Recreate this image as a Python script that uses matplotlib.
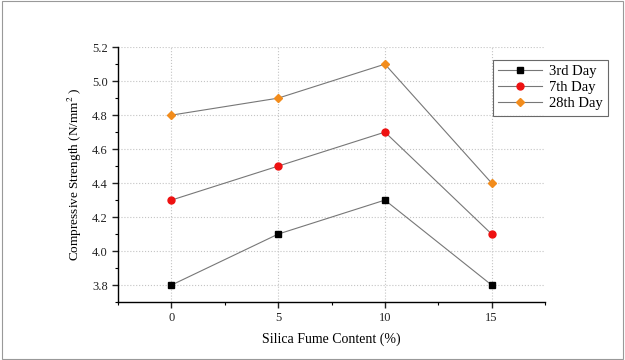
import matplotlib
matplotlib.use("Agg")
import matplotlib.pyplot as plt
from matplotlib.patches import Rectangle
from matplotlib.ticker import MultipleLocator, FormatStrFormatter

plt.rcParams['font.family'] = ['Liberation Serif', 'DejaVu Serif']
plt.rcParams['mathtext.fontset'] = 'stix'

# data
silica = [0, 5, 10, 15]
day3 = [3.8, 4.1, 4.3, 3.8]
day7 = [4.3, 4.5, 4.7, 4.1]
day28 = [4.8, 4.9, 5.1, 4.4]

fig = plt.figure(figsize=(6.25, 3.6), dpi=100)
ax = fig.add_axes([0.189, 0.161, 0.683, 0.708])

# thin frame round the whole picture
fig.patches.append(Rectangle((0.003, 0.003), 0.994, 0.994, transform=fig.transFigure,
                             fill=False, edgecolor='#999999', linewidth=0.8))

line_kw = dict(color='#777777', linewidth=0.8)
ax.plot(silica, day3, marker='s', markersize=5, markerfacecolor='black',
        markeredgecolor='black', label='3rd Day', **line_kw)
ax.plot(silica, day7, marker='o', markersize=5, markerfacecolor='#ee1111',
        markeredgecolor='#ee1111', label='7th Day', **line_kw)
ax.plot(silica, day28, marker='D', markersize=4.5, markerfacecolor='#f28c1c',
        markeredgecolor='#f28c1c', label='28th Day', **line_kw)

ax.set_xlim(-2.5, 17.5)
ax.set_ylim(3.7, 5.2)
ax.xaxis.set_major_locator(MultipleLocator(5))
ax.xaxis.set_minor_locator(MultipleLocator(2.5))
ax.yaxis.set_major_locator(MultipleLocator(0.2))
ax.yaxis.set_minor_locator(MultipleLocator(0.1))
ax.yaxis.set_major_formatter(FormatStrFormatter('%.1f'))

ax.spines['top'].set_visible(False)
ax.spines['right'].set_visible(False)
ax.spines['left'].set_linewidth(1.0)
ax.spines['bottom'].set_linewidth(1.0)
ax.tick_params(which='major', direction='out', length=4, width=1, labelsize=9, colors='#222222')
ax.tick_params(which='minor', direction='out', length=2.5, width=0.8)
ax.grid(True, which='major', linestyle=':', color='#c4c4c4', linewidth=0.8)
ax.set_axisbelow(True)

ax.set_xlabel('Silica Fume Content (%)', fontsize=10, labelpad=6)
ax.set_ylabel('Compressive Strength (N/mm$^2$ )', fontsize=9.5, labelpad=6)

leg = ax.legend(loc='upper left', bbox_to_anchor=(0.878, 0.95), borderaxespad=0,
                fontsize=10.5, frameon=True, fancybox=False, edgecolor='#444444',
                handlelength=3.0, borderpad=0.35, labelspacing=0.2, handletextpad=0.5)
leg.get_frame().set_linewidth(0.8)

fig.savefig('out.png', dpi=100)
